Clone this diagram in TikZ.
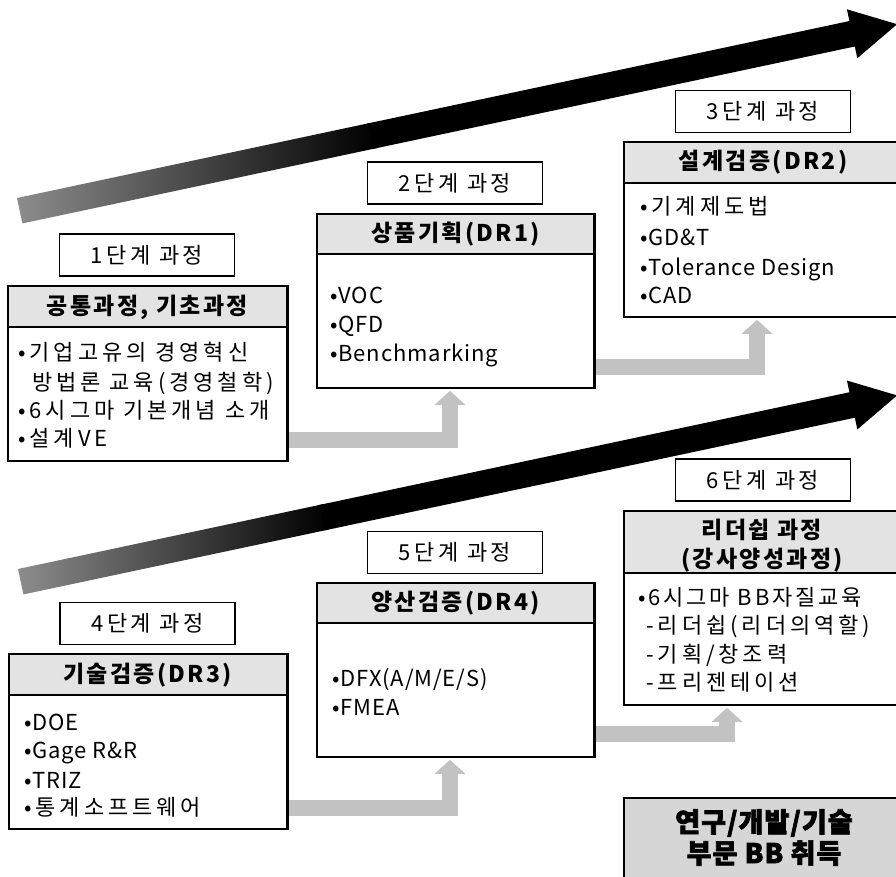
\documentclass[tikz,border=0pt]{standalone}
\usepackage{fontspec}
\setmainfont{Noto Sans CJK KR}[LetterSpace=10]
\newfontfamily\krfont{Noto Sans CJK KR}[LetterSpace=18]
\newfontfamily\krmid{Noto Sans CJK KR}[LetterSpace=13]
\newfontfamily\latfont{Noto Sans CJK KR}[LetterSpace=4]
\newfontfamily\heavyfont{Noto Sans CJK KR}[BoldFeatures={FakeBold=2.5}, LetterSpace=4]
\newfontfamily\lblfont{Noto Sans CJK KR}[LetterSpace=16]
\usetikzlibrary{arrows.meta,calc}
\tikzset{
  mainbox/.style={draw, line width=1.6pt, fill=white, inner sep=0pt},
  hdr/.style={path picture={
      \fill[black!11] (path picture bounding box.north west) rectangle ([yshift=-#1]path picture bounding box.north east);
      \draw[line width=1.6pt] ([yshift=-#1]path picture bounding box.north west) -- ([yshift=-#1]path picture bounding box.north east);}},
  lblbox/.style={draw, line width=1.4pt, fill=white, inner sep=0pt, minimum width=175pt, minimum height=42pt, font=\fontsize{22}{24}\lblfont},
  hdrtext/.style={inner sep=0pt, font=\fontsize{23}{26}\selectfont\bfseries},
  bigtext/.style={inner sep=0pt, font=\fontsize{27}{30}\heavyfont\bfseries},
  body/.style={anchor=base west, inner sep=0pt, font=\fontsize{22}{26}\krfont},
  bodymid/.style={body, font=\fontsize{22}{26}\krmid},
  bodylat/.style={body, font=\fontsize{22}{26}\latfont},
  conn/.style={draw=black!24, line width=16pt, line join=miter, -{Triangle[width=30pt,length=14pt]}, shorten >=2pt},
}
\begin{document}
\begin{tikzpicture}[x=1pt,y=-1pt]
\useasboundingbox (0,0) rectangle (896,877);
\clip (0,0) rectangle (896,877);

% big arrows
\begin{scope}[shift={(17,198)}, rotate=12]
  \shade[left color=black!45, right color=black] (0,0) -- (362,0) -- (362,26) -- (0,26) -- cycle;
  \fill[black] (358,0) -- (851,0) -- (851,-12) -- (897,13) -- (851,38) -- (851,26) -- (358,26) -- cycle;
\end{scope}
\begin{scope}[shift={(18,569)}, rotate=12]
  \shade[left color=black!45, right color=black] (0,0) -- (312,0) -- (312,26) -- (0,26) -- cycle;
  \fill[black] (308,0) -- (850,0) -- (850,-12) -- (896,13) -- (850,38) -- (850,26) -- (308,26) -- cycle;
\end{scope}

% helper coordinates for connectors
\coordinate (y12) at (0,440);
\coordinate (x12) at (450,0);
\coordinate (y23) at (0,367);
\coordinate (x23) at (757,0);
\coordinate (y45) at (0,808);
\coordinate (x45) at (450,0);
\coordinate (y56) at (0,734);
\coordinate (x56) at (727,0);

% boxes
\node[mainbox, hdr=41pt, minimum width=279pt, minimum height=175pt] (b1) at (147.5,373.5) {};
\node[mainbox, hdr=40pt, minimum width=277pt, minimum height=174pt] (b2) at (455.5,301) {};
\node[mainbox, hdr=41pt, minimum width=286pt, minimum height=175pt] (b3) at (767,229.5) {};
\node[mainbox, hdr=41pt, minimum width=278pt, minimum height=175pt] (b4) at (148,741.5) {};
\node[mainbox, hdr=40pt, minimum width=277pt, minimum height=174pt] (b5) at (455.5,670) {};
\node[mainbox, hdr=62pt, minimum width=286pt, minimum height=194pt] (b6) at (767,608) {};
\node[mainbox, fill=black!16, minimum width=286pt, minimum height=102pt] (b7) at (767,849) {};

% connectors
\draw[conn] (b1.east |- y12) -| (b2.south -| x12);
\draw[conn] (b2.east |- y23) -| (b3.south -| x23);
\draw[conn] (b4.east |- y45) -| (b5.south -| x45);
\draw[conn] (b5.east |- y56) -| (b6.south -| x56);
% redraw borders over connector ends
\draw[line width=1.6pt] (b1.north east) -- (b1.south east);
\draw[line width=1.6pt] (b2.north east) -- (b2.south east);
\draw[line width=1.6pt] (b4.north east) -- (b4.south east);
\draw[line width=1.6pt] (b5.north east) -- (b5.south east);

% stage labels
\node[lblbox] (l1) at (147,255) {1단계 과정};
\node[lblbox] (l2) at (455,183) {2단계 과정};
\node[lblbox] (l3) at (763,111.5) {3단계 과정};
\node[lblbox] (l4) at (147.5,623.5) {4단계 과정};
\node[lblbox] (l5) at (455,552.5) {5단계 과정};
\node[lblbox] (l6) at (763,480) {6단계 과정};

% header texts
\node[hdrtext] (h1) at (147.5,307) {공통과정, 기초과정};
\node[hdrtext] (h2) at (455.5,234) {상품기획(DR1)};
\node[hdrtext] (h3) at (763,162) {설계검증(DR2)};
\node[hdrtext] (h4) at (147.5,675) {기술검증(DR3)};
\node[hdrtext] (h5) at (455.5,603) {양산검증(DR4)};
\node[hdrtext] (h6a) at (762,530) {리더쉽 과정};
\node[hdrtext] (h6b) at (762,560) {(강사양성과정)};
\node[bigtext] (h7a) at (764,823) {연구/개발/기술};
\node[bigtext] (h7b) at (764,853) {부문 BB 취득};

% body texts
\node[body] (t11) at (18,360.5) {•기업고유의 경영혁신};
\node[body] (t12) at (32,390.5) {방법론 교육(경영철학)};
\node[body] (t13) at (18,418.5) {•6시그마 기본개념 소개};
\node[body] (t14) at (18,446) {•설계VE};

\node[bodylat] (t21) at (330,303) {•VOC};
\node[bodylat] (t22) at (330,332) {•QFD};
\node[bodylat] (t23) at (330,361.5) {•Benchmarking};

\node[body] (t31) at (640,215) {•기계제도법};
\node[bodylat] (t32) at (640,245) {•GD\&T};
\node[bodylat] (t33) at (640,275) {•Tolerance Design};
\node[bodylat] (t34) at (640,303) {•CAD};

\node[bodylat] (t41) at (24,730) {•DOE};
\node[bodylat] (t42) at (24,758.5) {•Gage R\&R};
\node[bodylat] (t43) at (24,788) {•TRIZ};
\node[body] (t44) at (24,815) {•통계소프트웨어};

\node[bodylat] (t51) at (332,686.5) {•DFX(A/M/E/S)};
\node[bodylat] (t52) at (332,715) {•FMEA};

\node[bodymid] (t61) at (638,605) {•6시그마 BB자질교육};
\node[body] (t62) at (646,633) {-리더쉽(리더의역할)};
\node[body] (t63) at (646,662) {-기획/창조력};
\node[body] (t64) at (646,690) {-프리젠테이션};
\end{tikzpicture}
\end{document}
